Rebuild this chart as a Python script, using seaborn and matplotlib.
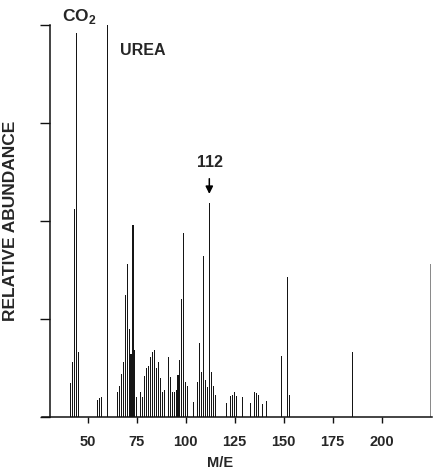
import pandas as pd
import seaborn as sns
import matplotlib.pyplot as plt

# m/e values and relative abundance
mass = [41, 42, 43, 44, 45,
        55, 56, 57, 60,
        65, 66, 67, 68, 69, 70, 71, 72, 73, 74, 75,
        77, 78, 79, 80, 81, 82, 83, 84, 85, 86, 87, 88, 89,
        91, 92, 93, 94, 95, 96, 97, 98, 99, 100, 101,
        104, 106, 107, 108, 109, 110, 111, 112, 113, 114, 115,
        121, 123, 124, 125, 126, 129, 133, 135, 136, 137, 139, 141,
        149, 152, 153, 185, 225]
abundance = [8.7, 14, 53, 98, 16.5,
             4.3, 4.8, 5.2, 100,
             6.5, 8, 11, 14, 31, 39, 22.5, 16, 49, 17, 5,
             6.5, 5, 10.5, 12.5, 13, 15.3, 16.7, 17, 12.5, 14, 10, 6.5, 7,
             15.3, 10.3, 6.5, 6.5, 7, 10.8, 14.5, 30, 47, 9, 8,
             3.9, 9, 19, 11.6, 41, 9.4, 7.7, 54.5, 11.6, 8, 5.6,
             3.6, 5.4, 5.5, 6.5, 5.4, 5, 3.6, 6.5, 6.2, 5.5, 3.3, 4,
             15.6, 35.8, 5.6, 16.6, 39]

xticks = [50, 75, 100, 125, 150, 175, 200]
yticks = [0, 25, 50, 75, 100]

df = pd.DataFrame({"me": mass, "abundance": abundance})
# the peak at the cropped right edge is only faintly printed
df["shade"] = ["edge" if m == 225 else "main" for m in mass]

sns.set_style("ticks")
plt.rcParams["font.family"] = ["Liberation Sans", "DejaVu Sans"]
plt.rcParams["mathtext.fontset"] = "custom"
plt.rcParams["mathtext.rm"] = "Liberation Sans:bold"
plt.rcParams["mathtext.bf"] = "Liberation Sans:bold"

fig = plt.figure(figsize=(4.34, 4.70), dpi=100)
ax = fig.add_axes([42 / 434, 1 - 417 / 470, 390 / 434, 392 / 470])

sns.barplot(data=df, x="me", y="abundance", hue="shade", native_scale=True,
            palette={"main": "#151515", "edge": "#8a8a8a"}, width=0.55,
            linewidth=0, errorbar=None, dodge=False, legend=False, ax=ax)

ax.set_xlim(26.5, 225.8)
ax.set_ylim(0, 100)
ax.spines["left"].set_position(("data", 30.6))
ax.spines["right"].set_visible(False)
ax.spines["top"].set_visible(False)
ax.spines["left"].set_linewidth(1.1)
ax.spines["bottom"].set_linewidth(1.1)
ax.spines["left"].set_color("#111111")
ax.spines["bottom"].set_color("#111111")

ax.set_xticks(xticks)
ax.set_xticklabels([str(t) for t in xticks], fontsize=10.5, fontweight="bold")
ax.set_yticks(yticks)
ax.set_yticklabels([])
ax.tick_params(axis="x", direction="out", length=4, width=1, pad=9,
               color="#111111")
ax.tick_params(axis="y", direction="out", length=7, width=1, color="#111111")

ax.set_xlabel("")
ax.set_ylabel("RELATIVE ABUNDANCE", fontsize=12.5, fontweight="bold")
ax.yaxis.set_label_coords(-0.062, 0.5)
fig.text(220 / 434, 1 - 463 / 470, "M/E", fontsize=10.5, fontweight="bold",
         ha="center", va="center")

# peak annotations
ax.text(36.6, 102.2, r"CO$_2$", fontsize=12.5, fontweight="bold", ha="left",
        va="center", clip_on=False)
ax.text(66.3, 93.6, "UREA", fontsize=11.5, fontweight="bold", ha="left",
        va="center")
ax.text(112.6, 64.8, "112", fontsize=11.5, fontweight="bold", ha="center",
        va="center")
ax.annotate("", xy=(112, 56.2), xytext=(112, 61.5),
            arrowprops=dict(arrowstyle="-|>", color="black", lw=1.1,
                            mutation_scale=11))

fig.savefig("out.png", dpi=100)
